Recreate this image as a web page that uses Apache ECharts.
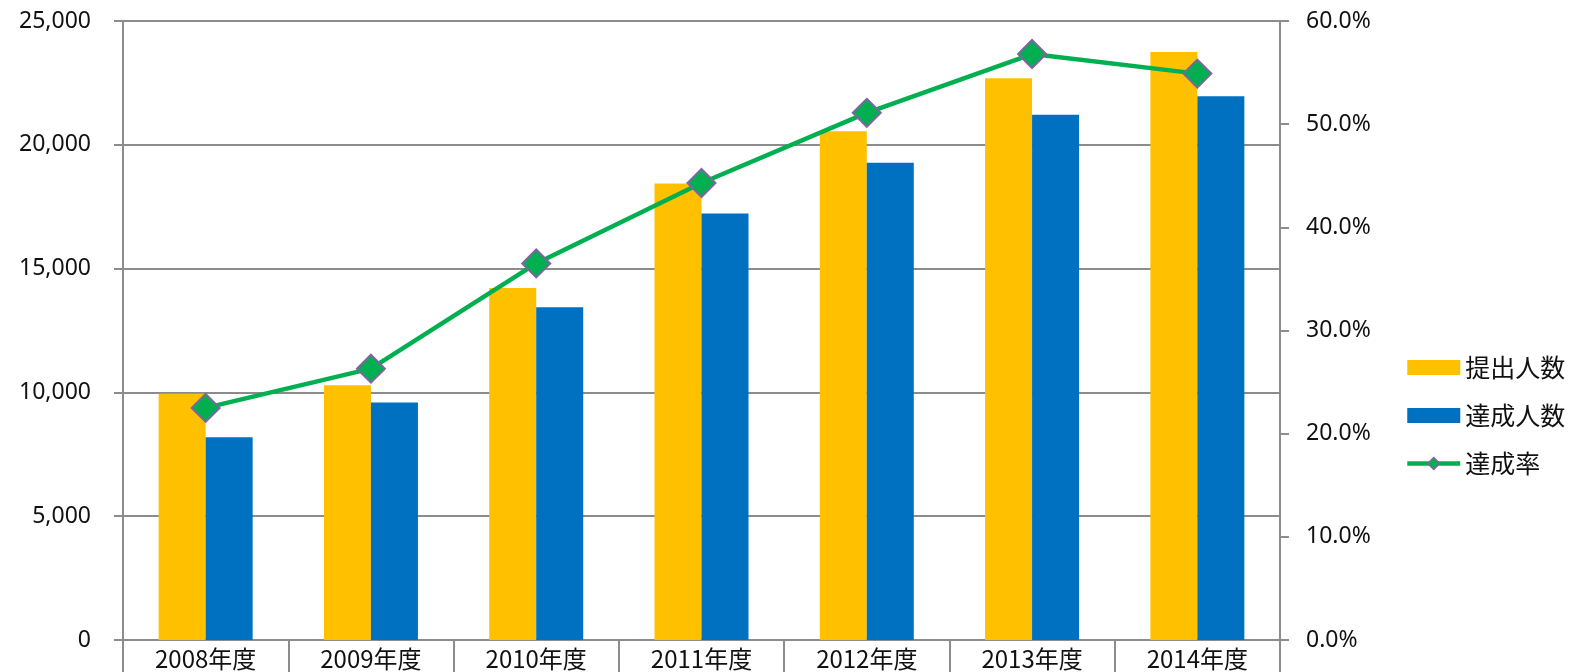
<!DOCTYPE html>
<html>
<head>
<meta charset="utf-8">
<script src="https://cdn.jsdelivr.net/npm/echarts@6/dist/echarts.min.js"></script>
<style>
  html, body { margin: 0; padding: 0; background: #fff; }
  #main { width: 1578px; height: 672px; }
</style>
</head>
<body>
<div id="main"></div>
<script>
// data
var years = ['2008年度', '2009年度', '2010年度', '2011年度', '2012年度', '2013年度', '2014年度'];
var submitted = [9950, 10290, 14220, 18440, 20550, 22690, 23750];   // 提出人数
var achieved = [8190, 9590, 13440, 17230, 19270, 21210, 21960];     // 達成人数
var rate = [22.5, 26.3, 36.5, 44.3, 51.1, 56.8, 54.9];              // 達成率 (%)

var myChart = echarts.init(document.getElementById('main'));

var gray = '#8c8c8c';
var txt = '#111';

var option = {
  animation: false,
  textStyle: { fontFamily: 'Noto Sans' },
  grid: { left: 123, right: 298, top: 21, bottom: 32 },
  legend: {
    orient: 'vertical',
    left: 1400,
    top: 350,
    itemWidth: 53,
    itemHeight: 15,
    itemGap: 23,
    itemStyle: { borderWidth: 0 },
    textStyle: { fontSize: 25, color: txt, fontFamily: 'Noto Sans CJK JP' },
    data: [
      { name: '提出人数', icon: 'rect' },
      { name: '達成人数', icon: 'rect' },
      {
        name: '達成率',
        lineStyle: { width: 4.5, color: '#00B050' },
        itemStyle: { color: '#00B050', borderColor: '#8064A2', borderWidth: 1.5 }
      }
    ]
  },
  xAxis: {
    type: 'category',
    data: years,
    axisLine: { lineStyle: { color: gray, width: 2 } },
    axisTick: { show: true, length: 40, lineStyle: { color: gray, width: 2 } },
    axisLabel: { color: txt, fontSize: 24, fontFamily: 'Noto Sans CJK JP', margin: 7 }
  },
  yAxis: [
    {
      type: 'value',
      min: 0,
      max: 25000,
      interval: 5000,
      axisLine: { show: true, lineStyle: { color: gray, width: 2 } },
      axisTick: { show: true, length: 9, lineStyle: { color: gray, width: 2 } },
      splitLine: { lineStyle: { color: gray, width: 2 } },
      axisLabel: {
        color: txt,
        fontSize: 23,
        margin: 32,
        formatter: function (v) { return v.toLocaleString('en-US'); }
      }
    },
    {
      type: 'value',
      min: 0,
      max: 60,
      interval: 10,
      position: 'right',
      axisLine: { show: true, lineStyle: { color: gray, width: 2 } },
      axisTick: { show: true, length: 9, lineStyle: { color: gray, width: 2 } },
      splitLine: { show: false },
      axisLabel: {
        color: txt,
        fontSize: 23,
        margin: 26,
        formatter: function (v) { return v.toFixed(1) + '%'; }
      }
    }
  ],
  series: [
    {
      name: '提出人数',
      type: 'bar',
      data: submitted,
      barWidth: 47,
      barGap: '0%',
      itemStyle: { color: '#FFC000' }
    },
    {
      name: '達成人数',
      type: 'bar',
      data: achieved,
      barWidth: 47,
      itemStyle: { color: '#0070C0' }
    },
    {
      name: '達成率',
      type: 'line',
      yAxisIndex: 1,
      data: rate,
      z: 5,
      symbol: 'diamond',
      symbolSize: 28,
      lineStyle: { color: '#00B050', width: 4.5 },
      itemStyle: { color: '#00B050', borderColor: '#8064A2', borderWidth: 2 }
    }
  ]
};

myChart.setOption(option);
</script>
</body>
</html>
